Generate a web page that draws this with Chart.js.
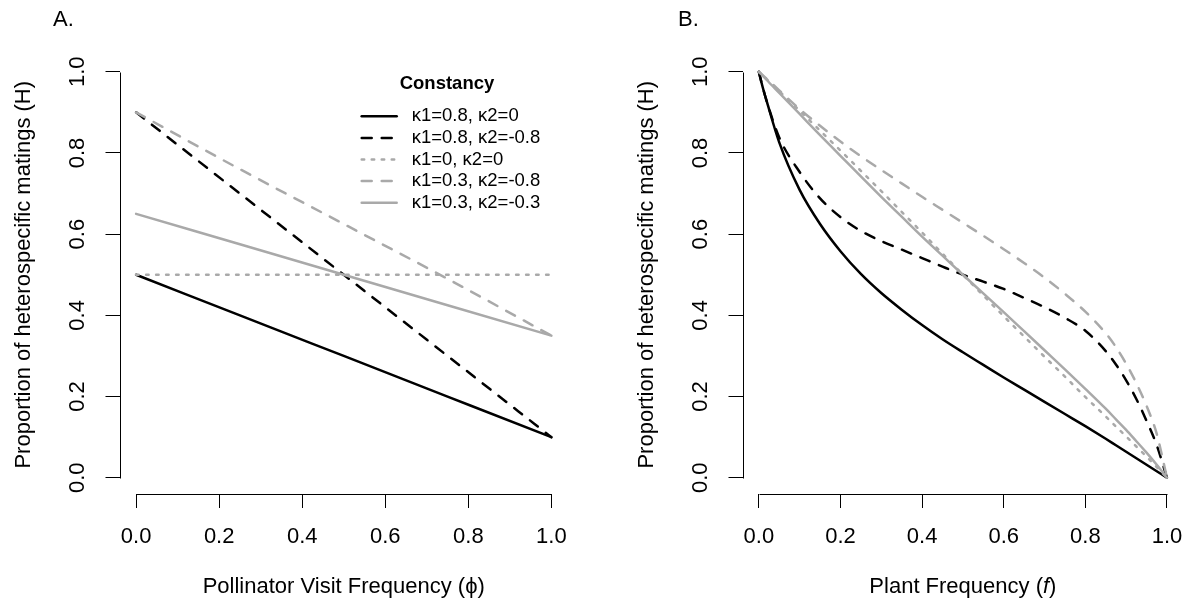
<!DOCTYPE html>
<html><head><meta charset="utf-8">
<script src="https://cdn.jsdelivr.net/npm/chart.js@4.4.1/dist/chart.umd.min.js"></script>
<style>
html,body{margin:0;padding:0;background:#fff;}
#wrap{position:relative;width:1198px;height:601px;overflow:hidden;background:#fff}
canvas{position:absolute;top:0}
#ca{left:0}
#cb{left:623px}
</style></head><body>
<div id="wrap"><canvas id="ca" width="600" height="601"></canvas><canvas id="cb" width="575" height="601"></canvas></div>
<script>
// ---------- data ----------
const tickValues = [0, 0.2, 0.4, 0.6, 0.8, 1.0];
const tickLabels = ['0.0', '0.2', '0.4', '0.6', '0.8', '1.0'];
const seriesNames = ['κ1=0.8, κ2=0', 'κ1=0.8, κ2=-0.8', 'κ1=0, κ2=0', 'κ1=0.3, κ2=-0.8', 'κ1=0.3, κ2=-0.3'];
const legendTitle = 'Constancy';
const yTitle = 'Proportion of heterospecific matings (H)';
const xTitleA = 'Pollinator Visit Frequency (ϕ)';
const xTitleBParts = ['Plant Frequency (', 'f', ')'];

// Panel A: pollinator visit frequency
const phiA = [0, 0.25, 0.5, 0.75, 1];
const A_k08_k0   = [0.50, 0.40, 0.30, 0.20, 0.10];
const A_k08_km08 = [0.90, 0.70, 0.50, 0.30, 0.10];
const A_k0_k0    = [0.50, 0.50, 0.50, 0.50, 0.50];
const A_k03_km08 = [0.90, 0.76, 0.625, 0.49, 0.35];
const A_k03_km03 = [0.65, 0.575, 0.50, 0.425, 0.35];

// Panel B: plant frequency
const fB = [0, 0.01, 0.02, 0.05, 0.1, 0.15, 0.2, 0.25, 0.3, 0.35, 0.4, 0.45, 0.5, 0.55, 0.6, 0.65, 0.7, 0.75, 0.8, 0.85, 0.875, 0.9, 0.925, 0.95, 0.975, 1];
const B_k08_k0   = [1.0, 0.96, 0.925, 0.826, 0.709, 0.625, 0.558, 0.502, 0.455, 0.414, 0.376, 0.341, 0.309, 0.278, 0.247, 0.217, 0.187, 0.157, 0.127, 0.096, 0.080, 0.064, 0.048, 0.032, 0.016, 0];
const B_k08_km08 = [1.0, 0.96, 0.925, 0.838, 0.753, 0.688, 0.642, 0.608, 0.583, 0.562, 0.541, 0.520, 0.500, 0.483, 0.465, 0.443, 0.420, 0.394, 0.362, 0.312, 0.279, 0.240, 0.194, 0.140, 0.080, 0];
const B_k0_k0    = [1.0, 0.991, 0.981, 0.952, 0.904, 0.855, 0.806, 0.756, 0.706, 0.655, 0.604, 0.552, 0.500, 0.449, 0.398, 0.348, 0.298, 0.249, 0.199, 0.151, 0.126, 0.102, 0.077, 0.052, 0.026, 0];
const B_k03_km08 = [1.0, 0.991, 0.982, 0.954, 0.908, 0.867, 0.828, 0.792, 0.758, 0.725, 0.692, 0.660, 0.628, 0.596, 0.563, 0.529, 0.493, 0.453, 0.409, 0.356, 0.322, 0.281, 0.233, 0.177, 0.108, 0];
const B_k03_km03 = [1.0, 0.990, 0.979, 0.948, 0.896, 0.844, 0.793, 0.742, 0.692, 0.643, 0.594, 0.547, 0.500, 0.454, 0.408, 0.361, 0.314, 0.267, 0.219, 0.170, 0.144, 0.118, 0.090, 0.062, 0.032, 0];

// ---------- styles ----------
const seriesColors = ['#000000', '#000000', '#a9a9a9', '#a9a9a9', '#a9a9a9'];
const seriesDashes = [[], [10, 10], [2.5, 7.5], [10, 10], []];
const FONT = '"Liberation Sans", Arial, Helvetica, sans-serif';

function makeDatasets(xs, ys) {
  return ys.map((arr, i) => ({
    label: seriesNames[i],
    data: xs.map((x, j) => ({x: x, y: arr[j]})),
    borderColor: seriesColors[i],
    borderDash: seriesDashes[i],
    borderWidth: 2.5,
    borderCapStyle: 'round',
    borderJoinStyle: 'round',
    pointRadius: 0,
    fill: false,
    cubicInterpolationMode: 'monotone',
    order: 10 - i
  }));
}

const rDecor = {
  id: 'rDecor',
  afterDraw(chart, args, o) {
    const {ctx, chartArea, scales: {x, y}} = chart;
    ctx.save();
    // axis lines spanning first to last tick (R style)
    ctx.strokeStyle = '#000';
    ctx.lineWidth = 1;
    ctx.setLineDash([]);
    const by = Math.round(chartArea.bottom) + 0.5;
    const lx = Math.round(chartArea.left) + 0.5;
    ctx.beginPath();
    ctx.moveTo(Math.round(x.getPixelForValue(tickValues[0])) + 0.5, by);
    ctx.lineTo(Math.round(x.getPixelForValue(tickValues[tickValues.length - 1])) + 0.5, by);
    ctx.moveTo(lx, Math.round(y.getPixelForValue(tickValues[0])) + 0.5);
    ctx.lineTo(lx, Math.round(y.getPixelForValue(tickValues[tickValues.length - 1])) + 0.5);
    ctx.stroke();
    // panel label
    ctx.fillStyle = '#000';
    ctx.font = '22px ' + FONT;
    ctx.textAlign = 'left';
    ctx.textBaseline = 'middle';
    ctx.fillText(o.panel, o.panelX, 20);
    // custom x title with italic part
    if (o.xParts) {
      const fonts = ['22px ' + FONT, 'italic 22px ' + FONT, '22px ' + FONT];
      let widths = o.xParts.map((t, i) => { ctx.font = fonts[i]; return ctx.measureText(t).width; });
      const total = widths.reduce((a, b) => a + b, 0);
      let cx = (chartArea.left + chartArea.right) / 2 - total / 2;
      ctx.textBaseline = 'middle';
      o.xParts.forEach((t, i) => { ctx.font = fonts[i]; ctx.fillText(t, cx, 586.7); cx += widths[i]; });
    }
    // legend
    if (o.legend) {
      ctx.font = 'bold 18.5px ' + FONT;
      ctx.textAlign = 'center';
      ctx.fillText(legendTitle, 447, 83.5);
      ctx.textAlign = 'left';
      ctx.font = '18.5px ' + FONT;
      chart.data.datasets.forEach((ds, i) => {
        const ry = 116.3 + i * 21.6;
        ctx.strokeStyle = ds.borderColor;
        ctx.lineWidth = ds.borderWidth;
        ctx.lineCap = 'round';
        ctx.setLineDash(ds.borderDash);
        ctx.beginPath();
        ctx.moveTo(361.7, ry);
        ctx.lineTo(396.7, ry);
        ctx.stroke();
        ctx.fillStyle = '#000';
        ctx.fillText(ds.label, 411.7, ry);
      });
    }
    ctx.restore();
  }
};

function makeChart(id, xs, ys, xTitle, decor, padRight) {
  const fixTicks = (s) => { s.ticks = tickValues.map(v => ({value: v})); };
  return new Chart(document.getElementById(id), {
    type: 'line',
    data: {datasets: makeDatasets(xs, ys)},
    plugins: [rDecor],
    options: {
      responsive: false,
      animation: false,
      devicePixelRatio: 1,
      events: [],
      layout: {padding: {top: 55.5, left: 0, right: padRight, bottom: 0}},
      plugins: {legend: {display: false}, tooltip: {enabled: false}, rDecor: decor},
      scales: {
        x: {
          type: 'linear', min: -0.04, max: 1.04,
          afterBuildTicks: fixTicks,
          afterFit: (s) => { s.height = 107; },
          border: {display: false},
          grid: {drawOnChartArea: false, drawTicks: true, tickLength: 14, color: '#000', lineWidth: 1},
          ticks: {color: '#000', font: {family: FONT, size: 22}, padding: 15.5, maxRotation: 0, autoSkip: false,
                  callback: (v) => tickLabels[tickValues.indexOf(v)] ?? ''},
          title: {display: !!xTitle, text: xTitle || '', color: '#000', font: {family: FONT, size: 22}, padding: {top: 0, bottom: 1.1}}
        },
        y: {
          type: 'linear', min: -0.04, max: 1.04,
          afterBuildTicks: fixTicks,
          afterFit: (s) => { s.width = 119.5; },
          border: {display: false},
          grid: {drawOnChartArea: false, drawTicks: true, tickLength: 14, color: '#000', lineWidth: 1},
          ticks: {color: '#000', font: {family: FONT, size: 22}, padding: 12.2, minRotation: 90, maxRotation: 90,
                  crossAlign: 'center', autoSkip: false,
                  callback: (v) => tickLabels[tickValues.indexOf(v)] ?? ''},
          title: {display: true, text: yTitle, color: '#000', font: {family: FONT, size: 22}, padding: {top: 10.3, bottom: 0}}
        }
      }
    }
  });
}

makeChart('ca', phiA, [A_k08_k0, A_k08_km08, A_k0_k0, A_k03_km08, A_k03_km03], xTitleA,
  {panel: 'A.', panelX: 53, legend: true}, 32);
makeChart('cb', fB, [B_k08_k0, B_k08_km08, B_k0_k0, B_k03_km08, B_k03_km03], null,
  {panel: 'B.', panelX: 678 - 623, legend: false, xParts: xTitleBParts}, 7);
</script>
</body></html>
